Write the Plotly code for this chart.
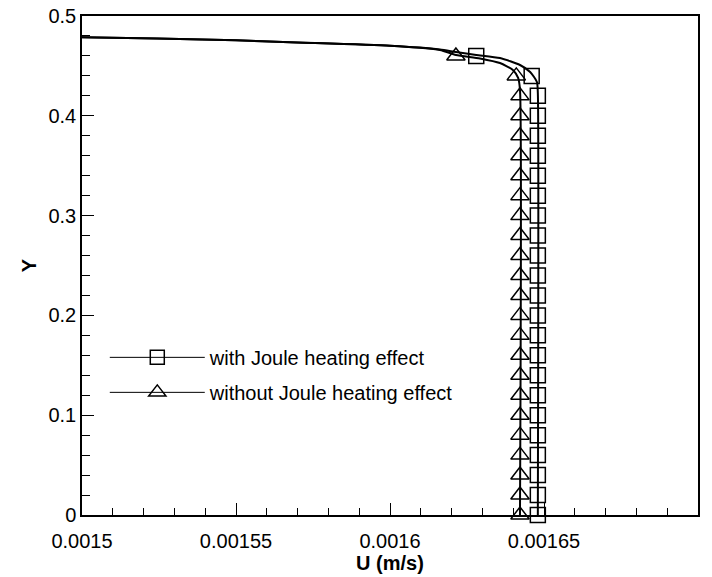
import plotly.graph_objects as go

# ---- data ----
y_marks = [0.0, 0.02, 0.04, 0.06, 0.08, 0.10, 0.12, 0.14, 0.16, 0.18, 0.20, 0.22,
           0.24, 0.26, 0.28, 0.30, 0.32, 0.34, 0.36, 0.38, 0.40, 0.42, 0.44, 0.46]
u_with_marks = [0.001648] * 22 + [0.001646, 0.001628]
u_without_marks = [0.0016422] * 22 + [0.001641, 0.0016214]

u_with_line = [0.00145, 0.0015, 0.00155, 0.0015675, 0.0016, 0.0016162, 0.0016214,
               0.001628, 0.0016357, 0.0016422, 0.0016455, 0.0016477, 0.001648, 0.001648]
y_with_line = [0.4805, 0.4787, 0.4757, 0.4737, 0.4702, 0.4665, 0.4639,
               0.4610, 0.4579, 0.4509, 0.4439, 0.4339, 0.4228, 0.0]

u_without_line = [0.00145, 0.0015, 0.00155, 0.0015675, 0.0016, 0.0016162, 0.0016214,
                  0.0016292, 0.0016357, 0.0016399, 0.0016416, 0.0016422, 0.0016422]
y_without_line = [0.4805, 0.4787, 0.4757, 0.4737, 0.4702, 0.4660, 0.4610,
                  0.4575, 0.4529, 0.4459, 0.4379, 0.4259, 0.0]

x_tickvals = [0.0015, 0.00155, 0.0016, 0.00165, 0.0017]
x_ticktext = ["0.0015", "0.00155", "0.0016", "0.00165", "0.0017"]
y_tickvals = [0, 0.1, 0.2, 0.3, 0.4, 0.5]
y_ticktext = ["0", "0.1", "0.2", "0.3", "0.4", "0.5"]

names = ["with Joule heating effect", "without Joule heating effect"]

FONT = "Liberation Sans, Arial, sans-serif"
fig = go.Figure()

# curves
fig.add_trace(go.Scatter(x=u_with_line, y=y_with_line, mode="lines",
                         line=dict(color="black", width=2, shape="spline", smoothing=0.6),
                         showlegend=False, hoverinfo="skip"))
fig.add_trace(go.Scatter(x=u_without_line, y=y_without_line, mode="lines",
                         line=dict(color="black", width=2, shape="spline", smoothing=0.6),
                         showlegend=False, hoverinfo="skip"))
# markers
fig.add_trace(go.Scatter(x=u_with_marks, y=y_marks, mode="markers", cliponaxis=False,
                         marker=dict(symbol="square-open", size=15, color="black",
                                     line=dict(width=1.5, color="black")),
                         showlegend=False))
fig.add_trace(go.Scatter(x=u_without_marks, y=y_marks, mode="markers", cliponaxis=False,
                         marker=dict(symbol="triangle-up-open", size=16, color="black",
                                     line=dict(width=1.5, color="black")),
                         showlegend=False))
# legend entries
fig.add_trace(go.Scatter(x=[None], y=[None], mode="lines+markers", name=names[0],
                         legendgroup="a",
                         line=dict(color="black", width=1),
                         marker=dict(symbol="square-open", size=14, color="black",
                                     line=dict(width=1.5, color="black"))))
fig.add_trace(go.Scatter(x=[None], y=[None], mode="lines+markers", name=names[1],
                         legendgroup="b",
                         line=dict(color="black", width=1),
                         marker=dict(symbol="triangle-up-open", size=15, color="black",
                                     line=dict(width=1.5, color="black"))))

axis_common = dict(showline=True, linecolor="black", linewidth=1.5, mirror=True,
                   ticks="inside", tickcolor="black", tickwidth=1.2, ticklen=12,
                   showgrid=False, zeroline=False, automargin=False,
                   tickfont=dict(family=FONT, size=20, color="black"))

fig.update_xaxes(range=[0.0015, 0.0017], tickvals=x_tickvals, ticktext=x_ticktext,
                 minor=dict(dtick=0.00001, ticks="inside", ticklen=7, tickcolor="black", tickwidth=1.2),
                 ticklabelstandoff=7,
                 title=dict(text="<b>U (m/s)</b>", font=dict(family=FONT, size=20, color="black"),
                            standoff=4),
                 **axis_common)
fig.update_yaxes(range=[0, 0.5], tickvals=y_tickvals, ticktext=y_ticktext,
                 minor=dict(dtick=0.02, ticks="inside", ticklen=8, tickcolor="black", tickwidth=1.2),
                 title=dict(text="<b>Y</b>", font=dict(family=FONT, size=20, color="black"),
                            standoff=6),
                 **axis_common)

fig.update_layout(
    width=712, height=577,
    margin=dict(l=82, r=14, t=16, b=62),
    plot_bgcolor="white", paper_bgcolor="white",
    font=dict(family=FONT, size=20, color="black"),
    legend=dict(x=0.037, y=0.355, xanchor="left", yanchor="top",
                bgcolor="rgba(0,0,0,0)", itemwidth=95, traceorder="grouped",
                tracegroupgap=6, font=dict(family=FONT, size=20, color="black")),
)

fig.write_html("out.html")
